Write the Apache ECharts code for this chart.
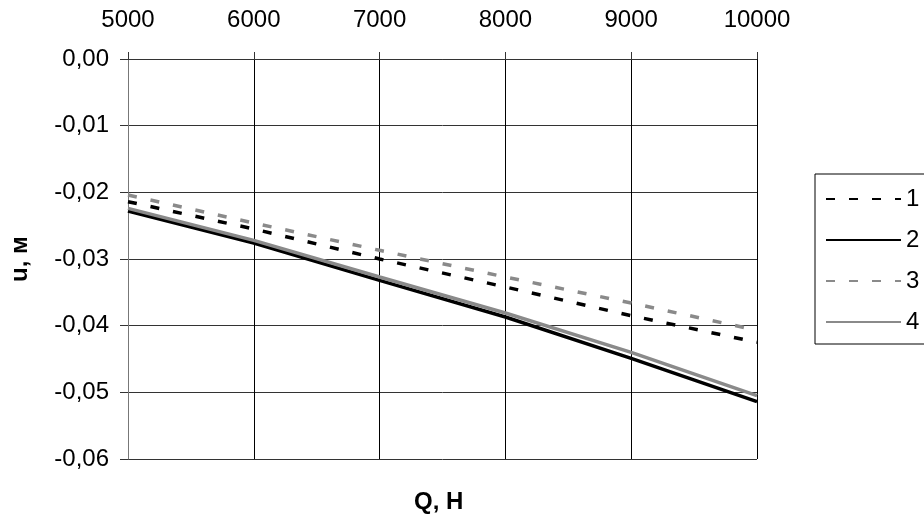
<!DOCTYPE html>
<html>
<head>
<meta charset="utf-8">
<script src="https://cdn.jsdelivr.net/npm/echarts@6/dist/echarts.min.js"></script>
<style>
  html, body { margin: 0; padding: 0; background: #fff; }
  #chart { width: 924px; height: 517px; }
</style>
</head>
<body>
<div id="chart"></div>
<script>
const loads = [5000, 6000, 7000, 8000, 9000, 10000];
const series1 = [-0.0214, -0.0255, -0.0300, -0.0342, -0.0385, -0.0425];
const series2 = [-0.0228, -0.0276, -0.0332, -0.0387, -0.0449, -0.0514];
const series3 = [-0.0204, -0.0246, -0.0287, -0.0327, -0.0366, -0.0407];
const series4 = [-0.0224, -0.0272, -0.0327, -0.0381, -0.0440, -0.0505];
const seriesNames = ["1", "2", "3", "4"];

const black = "#000000";
const grey = "#8a8a8a";
const font = "'Liberation Sans', Arial, sans-serif";

function pairs(values) {
  return loads.map((q, i) => [q, values[i]]);
}

function lineSeries(name, values, color, type) {
  return {
    name: name,
    type: "line",
    symbol: "none",
    smooth: false,
    lineStyle: { color: color, width: 3.5, type: type, cap: "butt" },
    itemStyle: { color: color },
    data: pairs(values),
  };
}

const chart = echarts.init(document.getElementById("chart"), null, { renderer: "canvas" });

chart.setOption({
  animation: false,
  backgroundColor: "#ffffff",
  grid: { left: 126, right: 167, top: 59, bottom: 58 },
  legend: {
    orient: "vertical",
    left: 815,
    top: 174,
    padding: [13, 40, 10, 10],
    itemWidth: 75,
    itemHeight: 14,
    itemGap: 17,
    borderColor: "#000",
    borderWidth: 1,
    itemStyle: { opacity: 0 },
    textStyle: { color: "#000", fontSize: 24, fontFamily: font, padding: [0, 0, 0, 0] },
    data: seriesNames,
  },
  xAxis: {
    type: "value",
    position: "top",
    min: 5000,
    max: 10000,
    interval: 1000,
    axisLine: { show: true, lineStyle: { color: "#333", width: 1 } },
    axisTick: { show: true, length: 7, lineStyle: { color: "#333" } },
    axisLabel: {
      color: "#000",
      fontSize: 24,
      fontFamily: font,
      margin: 27,
      formatter: (v) => String(v),
    },
    splitLine: { show: true, lineStyle: { color: "#000", width: 1 } },
  },
  yAxis: {
    type: "value",
    min: -0.06,
    max: 0,
    interval: 0.01,
    name: "u, м",
    nameLocation: "middle",
    nameGap: 96,
    nameRotate: 90,
    nameTextStyle: { color: "#000", fontSize: 24, fontWeight: "bold", fontFamily: font },
    axisLine: { show: true, lineStyle: { color: "#777", width: 1 } },
    axisTick: { show: true, length: 8, lineStyle: { color: "#333" } },
    axisLabel: {
      color: "#000",
      fontSize: 24,
      fontFamily: font,
      margin: 19,
      formatter: (v) => v.toFixed(2).replace(".", ","),
    },
    splitLine: { show: true, lineStyle: { color: "#333", width: 1 } },
  },
  graphic: [
    {
      type: "text",
      left: 414,
      top: 490,
      style: { text: "Q, Н", fill: "#000", font: "bold 24px " + font },
    },
  ],
  series: [
    lineSeries("1", series1, black, [9, 14]),
    lineSeries("2", series2, black, "solid"),
    lineSeries("3", series3, grey, [9, 14]),
    lineSeries("4", series4, grey, "solid"),
  ],
});
</script>
</body>
</html>
